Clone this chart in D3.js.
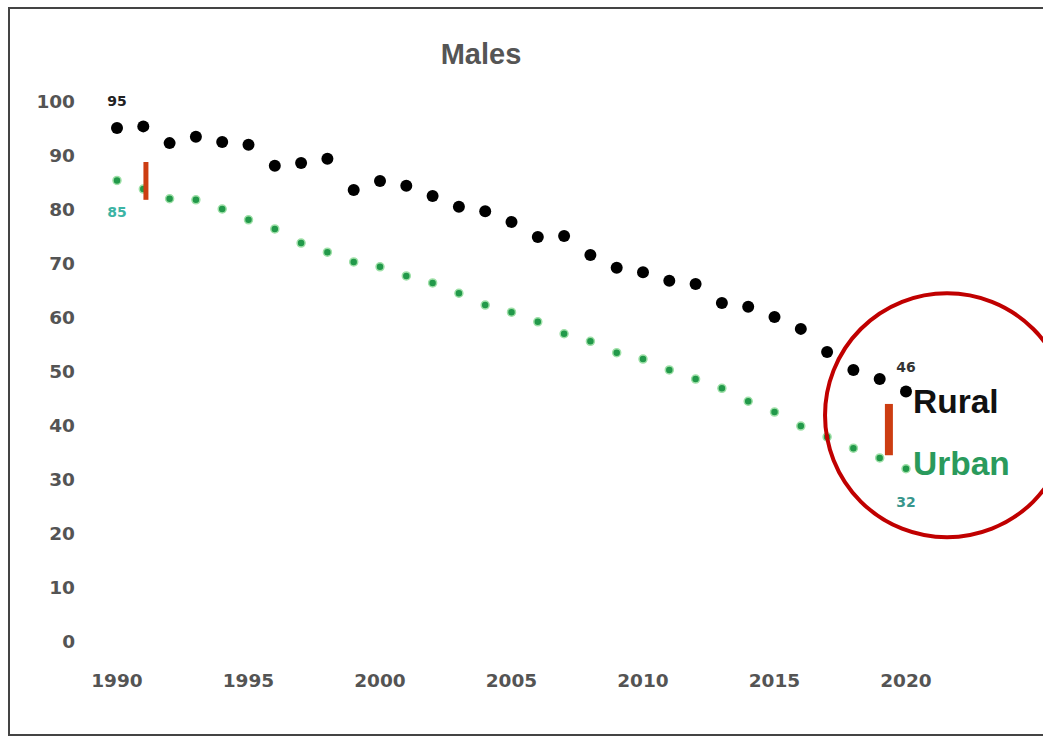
<!DOCTYPE html>
<html>
<head>
<meta charset="utf-8">
<script src="https://cdn.jsdelivr.net/npm/d3@7"></script>
<style>
  body { margin: 0; background: #fff; }
  svg { display: block; }
</style>
</head>
<body>
<div id="chart"></div>
<script>
// values
const years = [1990, 1991, 1992, 1993, 1994, 1995, 1996, 1997, 1998, 1999,
  2000, 2001, 2002, 2003, 2004, 2005, 2006, 2007, 2008, 2009,
  2010, 2011, 2012, 2013, 2014, 2015, 2016, 2017, 2018, 2019, 2020];
const rural = [95.0, 95.3, 92.2, 93.4, 92.4, 91.9, 88.0, 88.5, 89.3, 83.5,
  85.2, 84.3, 82.4, 80.4, 79.6, 77.6, 74.8, 75.0, 71.5, 69.1,
  68.3, 66.7, 66.1, 62.6, 61.9, 60.0, 57.8, 53.5, 50.2, 48.5, 46.2];
const urban = [85.3, 83.7, 81.9, 81.7, 80.0, 78.0, 76.3, 73.7, 72.0, 70.2,
  69.3, 67.6, 66.3, 64.4, 62.2, 60.9, 59.1, 56.9, 55.5, 53.4,
  52.2, 50.2, 48.5, 46.8, 44.4, 42.4, 39.8, 37.8, 35.7, 33.9, 31.9];
const yTicks = [0, 10, 20, 30, 40, 50, 60, 70, 80, 90, 100];
const xTicks = [1990, 1995, 2000, 2005, 2010, 2015, 2020];
// red gap markers: [year, low, high]
const gaps = [[1991.1, 81.7, 88.7], [2019.35, 34.4, 43.9]];

const width = 1043, height = 739;
const x = d3.scaleLinear().domain([1990, 2020]).range([117, 906]);
const y = d3.scaleLinear().domain([0, 100]).range([641, 101]);

const svg = d3.select("#chart").append("svg")
  .attr("width", width)
  .attr("height", height);

// outer frame
svg.append("rect")
  .attr("x", 9).attr("y", 8)
  .attr("width", 1080).attr("height", 727)
  .attr("fill", "none")
  .attr("stroke", "#444")
  .attr("stroke-width", 2);

// title
svg.append("text")
  .attr("x", 481).attr("y", 64)
  .attr("text-anchor", "middle")
  .style("font", "bold 29px 'Liberation Sans', Arial, sans-serif")
  .attr("fill", "#555")
  .text("Males");

// y tick labels, no axis line
svg.append("g").selectAll("text")
  .data(yTicks)
  .join("text")
    .attr("x", 75)
    .attr("y", d => y(d))
    .attr("dy", "0.36em")
    .attr("text-anchor", "end")
    .style("font", "bold 18.5px 'DejaVu Sans', sans-serif")
    .attr("fill", "#545454")
    .text(d => d);

// x tick labels
svg.append("g").selectAll("text")
  .data(xTicks)
  .join("text")
    .attr("x", d => x(d))
    .attr("y", 680)
    .attr("dy", "0.36em")
    .attr("text-anchor", "middle")
    .style("font", "bold 18.5px 'DejaVu Sans', sans-serif")
    .attr("fill", "#545454")
    .text(d => d);

// urban points (green)
svg.append("g").selectAll("circle")
  .data(years)
  .join("circle")
    .attr("cx", d => x(d))
    .attr("cy", (d, i) => y(urban[i]))
    .attr("r", 4)
    .attr("fill", "#22994a")
    .attr("stroke", "#9fe0a8")
    .attr("stroke-width", 1.5);

// rural points (black)
svg.append("g").selectAll("circle")
  .data(years)
  .join("circle")
    .attr("cx", d => x(d))
    .attr("cy", (d, i) => y(rural[i]))
    .attr("r", 6)
    .attr("fill", "#000");

// gap markers
svg.append("g").selectAll("line")
  .data(gaps)
  .join("line")
    .attr("x1", d => x(d[0])).attr("x2", d => x(d[0]))
    .attr("y1", d => y(d[2])).attr("y2", d => y(d[1]))
    .attr("stroke", "#cc3d12")
    .attr("stroke-width", (d, i) => i === 0 ? 5 : 8);

// end and start value labels
const last = years.length - 1;
const valueLabels = [
  {yr: years[0], v: rural[0], txt: "95", dy: -22, color: "#222"},
  {yr: years[0], v: urban[0], txt: "85", dy: 37, color: "#3cb4a4"},
  {yr: years[last], v: rural[last], txt: "46", dy: -20, color: "#333"},
  {yr: years[last], v: urban[last], txt: "32", dy: 38, color: "#38968c"}
];
svg.append("g").selectAll("text")
  .data(valueLabels)
  .join("text")
    .attr("x", d => x(d.yr))
    .attr("y", d => y(d.v) + d.dy)
    .attr("text-anchor", "middle")
    .style("font", "bold 14px 'DejaVu Sans', sans-serif")
    .attr("fill", d => d.color)
    .text(d => d.txt);

// series names
svg.append("text")
  .attr("x", x(2020) + 7)
  .attr("y", y(rural[last]) + 21)
  .style("font", "bold 33.5px 'Liberation Sans', Arial, sans-serif")
  .attr("fill", "#111")
  .text("Rural");
svg.append("text")
  .attr("x", x(2020) + 7)
  .attr("y", y(urban[last]) + 6)
  .style("font", "bold 33.5px 'Liberation Sans', Arial, sans-serif")
  .attr("fill", "#2a9a5c")
  .text("Urban");

// highlight ring
svg.append("circle")
  .attr("cx", x(2021.56))
  .attr("cy", y(41.8))
  .attr("r", 122)
  .attr("fill", "none")
  .attr("stroke", "#c00000")
  .attr("stroke-width", 4);
</script>
</body>
</html>
